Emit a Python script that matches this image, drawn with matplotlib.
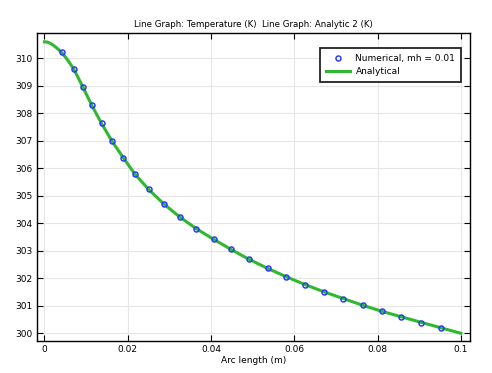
import numpy as np
import matplotlib
matplotlib.use("Agg")
import matplotlib.pyplot as plt

# numerical solution
num_x = [0.0042, 0.0070, 0.0092, 0.0114, 0.0137, 0.0162, 0.0189, 0.0217, 0.0251,
         0.0286, 0.0325, 0.0365, 0.0406, 0.0448, 0.0490, 0.0536, 0.0580, 0.0626,
         0.0671, 0.0718, 0.0764, 0.0810, 0.0857, 0.0904, 0.0952]
num_T = [310.22, 309.61, 308.95, 308.29, 307.64, 306.99, 306.39, 305.78, 305.24,
         304.71, 304.24, 303.80, 303.42, 303.05, 302.70, 302.36, 302.06, 301.77,
         301.51, 301.26, 301.02, 300.80, 300.60, 300.39, 300.20]

# analytical curve
ana_x = [0.0, 0.0007, 0.0013, 0.0020, 0.0025, 0.0033, 0.0042, 0.0055, 0.0070,
         0.0092, 0.0114, 0.0137, 0.0162, 0.0189, 0.0217, 0.0251, 0.0286, 0.0325,
         0.0365, 0.0406, 0.0448, 0.0490, 0.0536, 0.0580, 0.0626, 0.0671, 0.0718,
         0.0764, 0.0810, 0.0857, 0.0904, 0.0952, 0.1000]
ana_T = [310.60, 310.59, 310.55, 310.49, 310.43, 310.33, 310.20, 309.95, 309.62,
         308.96, 308.28, 307.63, 306.99, 306.39, 305.79, 305.22, 304.71, 304.23,
         303.80, 303.42, 303.05, 302.70, 302.36, 302.06, 301.77, 301.51, 301.26,
         301.02, 300.80, 300.60, 300.40, 300.20, 300.00]

xticks = [0, 0.02, 0.04, 0.06, 0.08, 0.1]
xticklabels = ["0", "0.02", "0.04", "0.06", "0.08", "0.1"]
yticks = list(range(300, 311))

plt.rcParams['font.family'] = ['DejaVu Sans']
plt.rcParams['font.size'] = 6.5

fig = plt.figure(figsize=(4.92, 3.73), dpi=100)
ax = fig.add_axes([0.0752, 0.0858, 0.8793, 0.8257])

ax.plot(ana_x, ana_T, color='#2fb82f', lw=2.2, label='Analytical', zorder=2)
ax.plot(num_x, num_T, ls='none', marker='o', ms=3.6, mfc='none', mec='#2a3cff',
        mew=1.1, label='Numerical, mh = 0.01', zorder=3)

ax.set_xlim(-0.0018, 0.1021)
ax.set_ylim(299.72, 310.92)
ax.set_xticks(xticks)
ax.set_xticklabels(xticklabels)
ax.set_yticks(yticks)
ax.grid(True, color='#e6e6e6', lw=0.8)
ax.set_axisbelow(True)
ax.tick_params(direction='in', top=True, right=True, length=4, width=0.8, pad=3)
for s in ax.spines.values():
    s.set_linewidth(1.0)

ax.set_title("Line Graph: Temperature (K)  Line Graph: Analytic 2 (K)", fontsize=6.2, pad=4)
ax.set_xlabel("Arc length (m)", fontsize=6.5, labelpad=1)

h, l = ax.get_legend_handles_labels()
leg = ax.legend(h[::-1], l[::-1], loc='upper right', fancybox=False, shadow=False,
                edgecolor='#222222', framealpha=1, borderpad=0.6, handlelength=2.7,
                handletextpad=0.6, bbox_to_anchor=(0.99, 0.965))
leg.get_frame().set_linewidth(1.3)

fig.savefig("out.png", dpi=100)
